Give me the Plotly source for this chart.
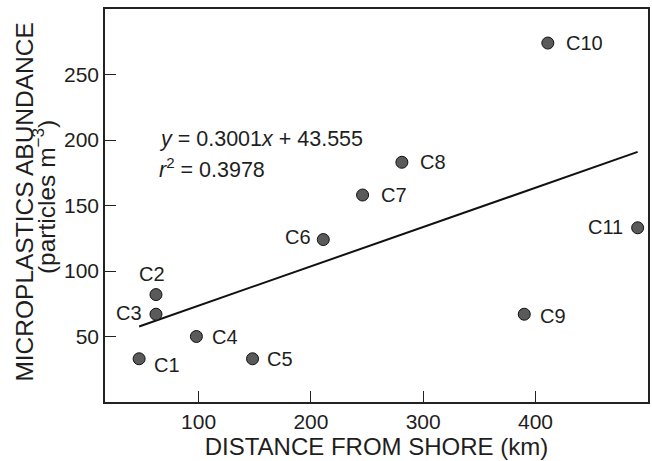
import plotly.graph_objects as go

# Data
labels = ["C1", "C2", "C3", "C4", "C5", "C6", "C7", "C8", "C9", "C10", "C11"]
distance_km = [47, 62, 62, 98, 148, 211, 246, 281, 390, 411, 491]
abundance = [33, 82, 67, 50, 33, 124, 158, 183, 67, 274, 133]

slope = 0.3001
intercept = 43.555
r_squared = 0.3978

x_ticks = [100, 200, 300, 400]
y_ticks = [50, 100, 150, 200, 250]

FONT = "Liberation Sans, Arial, sans-serif"
TXT = "#1e1e1e"

fig = go.Figure()

# Regression line across the data range
x_line = [min(distance_km), max(distance_km)]
y_line = [slope * x + intercept for x in x_line]
fig.add_trace(go.Scatter(x=x_line, y=y_line, mode="lines",
                         line=dict(color="#111111", width=2),
                         hoverinfo="skip", showlegend=False))

fig.add_trace(go.Scatter(x=distance_km, y=abundance, mode="markers",
                         marker=dict(size=12, color="#5a5a5a",
                                     line=dict(color="#111111", width=1)),
                         text=labels, showlegend=False))

# label placement styles: (xanchor, xshift, yshift)
place = {
    "C1": ("left", 13, -6),
    "C2": ("center", -4, 21),
    "C3": ("right", -12, 1),
    "C4": ("left", 14, 0),
    "C5": ("left", 12, 0),
    "C6": ("right", -10, 3),
    "C7": ("left", 16, 0),
    "C8": ("left", 16, 0),
    "C9": ("left", 14, -2),
    "C10": ("left", 16, 0),
    "C11": ("right", -13, 1),
}
for lab, xv, yv in zip(labels, distance_km, abundance):
    xa, xs, ys = place[lab]
    fig.add_annotation(x=xv, y=yv, text=lab, showarrow=False,
                       xanchor=xa, yanchor="middle", xshift=xs, yshift=ys,
                       font=dict(family=FONT, size=20, color=TXT))

# Equation annotations
fig.add_annotation(x=62.5, y=200.5, xref="x", yref="y",
                   text=f"<i>y</i> = {slope}<i>x</i> + {intercept}",
                   showarrow=False, xanchor="left", yanchor="middle",
                   font=dict(family=FONT, size=21.5, color=TXT))
fig.add_annotation(x=62.5, y=179, xref="x", yref="y",
                   text=f"<i>r</i><sup>2</sup> = {r_squared}",
                   showarrow=False, xanchor="left", yanchor="middle",
                   font=dict(family=FONT, size=21.5, color=TXT))

# Y title (two lines)
fig.add_annotation(x=-0.149, y=0.5076, xref="paper", yref="paper",
                   xanchor="center", yanchor="middle",
                   text="MICROPLASTICS ABUNDANCE", textangle=-90, showarrow=False,
                   font=dict(family=FONT, size=24.5, color=TXT))
fig.add_annotation(x=-0.112, y=0.522, xref="paper", yref="paper",
                   xanchor="center", yanchor="middle",
                   text="(particles m<sup>−3</sup>)", textangle=-90, showarrow=False,
                   font=dict(family=FONT, size=24.5, color=TXT))

fig.update_layout(
    width=652, height=461,
    margin=dict(l=105, r=2, t=9, b=59),
    paper_bgcolor="white", plot_bgcolor="white",
    font=dict(family=FONT, color=TXT),
    showlegend=False,
    xaxis=dict(range=[16.6, 500.2], tickvals=x_ticks, ticks="inside", ticklen=11,
               tickwidth=1.3, tickcolor="#222", showgrid=False, zeroline=False,
               showline=True, linecolor="#222", linewidth=1.5, mirror=True,
               tickfont=dict(family=FONT, size=21, color=TXT),
               title=dict(text="DISTANCE FROM SHORE (km)", standoff=5,
                          font=dict(family=FONT, size=24, color=TXT))),
    yaxis=dict(range=[0, 300], tickvals=y_ticks, ticks="inside", ticklen=11,
               tickwidth=1.3, tickcolor="#222", showgrid=False, zeroline=False,
               showline=True, linecolor="#222", linewidth=1.5, mirror=True,
               tickfont=dict(family=FONT, size=21, color=TXT)),
)

fig.write_html("out.html")
